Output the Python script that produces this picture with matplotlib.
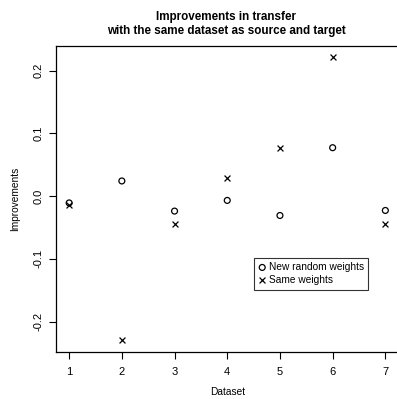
import matplotlib
matplotlib.use("Agg")
import matplotlib.pyplot as plt

plt.rcParams['font.family'] = ['Liberation Sans', 'DejaVu Sans']

datasets = [1, 2, 3, 4, 5, 6, 7]
new_random = [-0.011, 0.024, -0.024, -0.007, -0.031, 0.077, -0.023]
same_weights = [-0.014, -0.230, -0.044, 0.028, 0.077, 0.221, -0.044]
y_ticks = [-0.2, -0.1, 0.0, 0.1, 0.2]
y_ticklabels = ["-0.2", "-0.1", "0.0", "0.1", "0.2"]

W, H = 397, 399
fig = plt.figure(figsize=(W / 100, H / 100), dpi=100)
left, right, top, bottom = 56.5, 398.0, 46.0, 351.7
ax = fig.add_axes([left / W, 1 - bottom / H, (right - left) / W, (bottom - top) / H])

ax.scatter(datasets, new_random, marker='o', s=18, facecolors='none',
           edgecolors='black', linewidths=0.9, label='New random weights')
ax.scatter(datasets, same_weights, marker='x', s=18, color='black',
           linewidths=0.9, label='Same weights')

# R-style 4% range padding
xr = max(datasets) - min(datasets)
ax.set_xlim(min(datasets) - 0.04 * xr, max(datasets) + 0.04 * xr)
allv = new_random + same_weights
yr = max(allv) - min(allv)
ax.set_ylim(min(allv) - 0.04 * yr, max(allv) + 0.04 * yr)

ax.set_xticks(datasets)
ax.set_xticklabels([str(d) for d in datasets])
ax.set_yticks(y_ticks)
ax.set_yticklabels(y_ticklabels, rotation=90, va='center')
ax.tick_params(direction='out', length=5, width=0.8, labelsize=8)
ax.tick_params(axis='x', pad=6)
ax.tick_params(axis='y', pad=4)
for s in ax.spines.values():
    s.set_linewidth(0.9)

ax.set_xlabel('Dataset', fontsize=7.3, va='center')
ax.xaxis.set_label_coords(0.5, (bottom - 392) / (bottom - top))
ax.set_ylabel('Improvements', fontsize=7.3, va='center')
ax.yaxis.set_label_coords((15 - left) / (right - left), 0.5)

fig.suptitle('Improvements in transfer\nwith the same dataset as source and target',
             fontsize=8.4, fontweight='bold', x=226 / W, y=1 - 11 / H, va='top',
             linespacing=1.25)

leg = ax.legend(loc='upper left', bbox_to_anchor=(4.5, -0.098),
                bbox_transform=ax.transData, borderaxespad=0, fontsize=7.3,
                frameon=True, fancybox=False, edgecolor='black',
                handletextpad=0.25, handlelength=0.8, borderpad=0.45,
                labelspacing=0.3)
leg.get_frame().set_linewidth(0.8)

fig.savefig('out.png', dpi=100)
